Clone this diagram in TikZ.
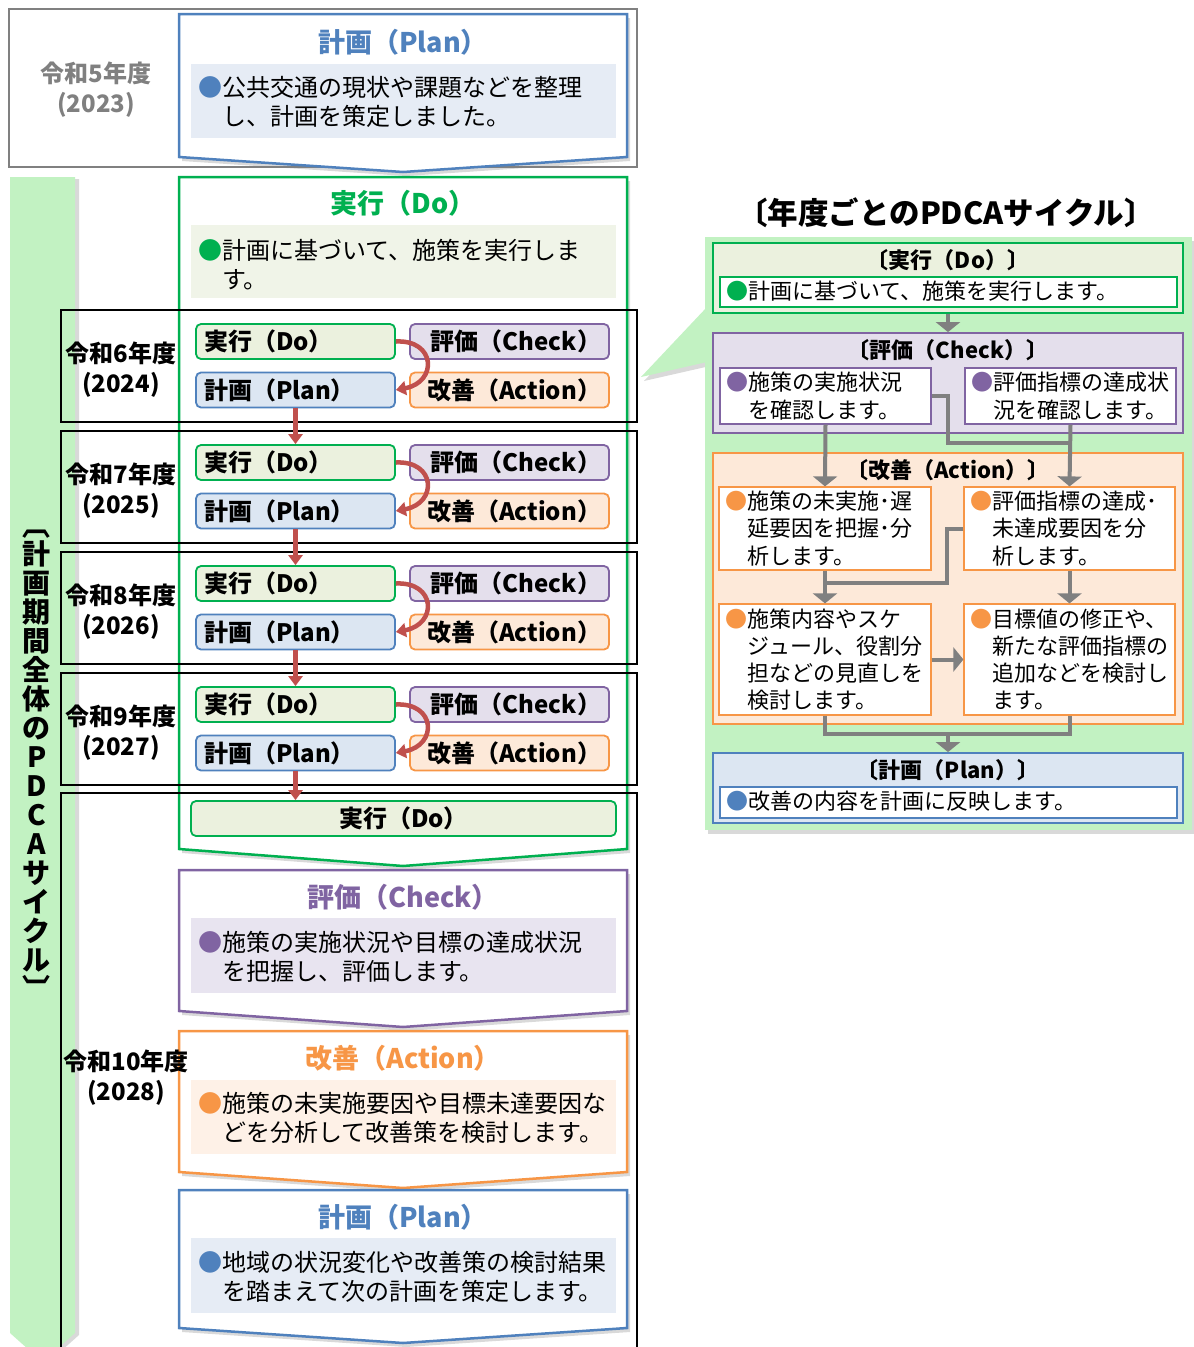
\documentclass[tikz,border=0pt]{standalone}
\usepackage{fontspec}
\setmainfont{Noto Sans CJK JP}
\usetikzlibrary{arrows.meta,shadows,calc}
\definecolor{cBlue}{RGB}{79,129,189}
\definecolor{cGreen}{RGB}{0,176,80}
\definecolor{cPurple}{RGB}{128,100,162}
\definecolor{cOrange}{RGB}{247,150,70}
\definecolor{fBlue}{RGB}{220,230,242}
\definecolor{fBlueL}{RGB}{230,236,245}
\definecolor{fGreen}{RGB}{235,241,222}
\definecolor{fGreenL}{RGB}{240,244,232}
\definecolor{fPurple}{RGB}{228,223,236}
\definecolor{fPurpleL}{RGB}{232,228,240}
\definecolor{fOrange}{RGB}{253,233,217}
\definecolor{fOrangeL}{RGB}{254,241,231}
\definecolor{barGreen}{RGB}{194,242,194}
\definecolor{redA}{RGB}{192,80,77}
\definecolor{grayA}{RGB}{128,128,128}
\newcommand\bul[2]{\begin{tabular}{@{}l@{}l@{}}\textcolor{#1}{●}&#2\end{tabular}}
\newcommand\mychev[4]{\draw[chev,draw=#1] (179,#2) -- (627,#2) -- (627,#3) -- (403,#4) -- (179,#3) -- cycle;}
\begin{document}
\begin{tikzpicture}[x=1pt,y=-1pt,
  shad/.style={drop shadow={shadow xshift=3pt,shadow yshift=-4pt,opacity=0.3}},
  chev/.style={line width=2.5pt,fill=white,line join=miter,shad},
  ttl/.style={font=\fontsize{27}{30}\selectfont\bfseries},
  body/.style={font=\fontsize{24}{29.5}\selectfont,inner sep=0pt},
  yl/.style={font=\fontsize{24}{30}\selectfont\bfseries,align=center,inner sep=0pt},
  sbox/.style={rounded corners=5pt,line width=1.8pt,minimum height=35pt,inner xsep=8pt,inner ysep=0pt,text width=183pt,font=\fontsize{24}{28}\selectfont\bfseries},
  redarr/.style={draw=redA,line width=4.5pt,-{Triangle[width=14pt,length=10pt]}},
  pbox/.style={line width=1.8pt,inner sep=0pt},
  ibox/.style={line width=1.2pt,fill=white,inner sep=0pt},
  ptl/.style={font=\fontsize{22}{26}\selectfont\bfseries,inner sep=0pt},
  ptx/.style={font=\fontsize{22}{27.3}\selectfont,inner sep=0pt},
  gline/.style={draw=grayA,line width=4pt},
  garr/.style={draw=grayA,line width=4pt,-{Triangle[width=24pt,length=10pt]}}]
\useasboundingbox (0,0) rectangle (1194,1347);

% top gray box
\draw[grayA,line width=2pt] (9,9) rectangle (637,167);
\node[yl,text=grayA] (y5) at (96,90) {令和5年度\\(2023)};

% left bar
\path[fill=barGreen,drop shadow={shadow xshift=4pt,shadow yshift=-2pt,opacity=0.3}] (10,177) -- (75,177) -- (75,1333) -- (42.5,1362) -- (10,1333) -- cycle;
\node[font=\fontsize{28}{29}\selectfont\bfseries,align=center,inner sep=0pt] (vt) at (37,765) {︹\\計\\画\\期\\間\\全\\体\\の\\P\\D\\C\\A\\サ\\イ\\ク\\ル\\︺};

% chevrons
\mychev{cBlue}{14}{157}{172}
\fill[fBlueL] (191,64) rectangle (616,138);
\node[ttl,text=cBlue] (t1) at (403,42) {計画（Plan）};
\node[body,anchor=west] (b1) at (198,105) {\bul{cBlue}{公共交通の現状や課題などを整理\\&し、計画を策定しました。}};

\mychev{cGreen}{177}{849}{866}
\fill[fGreenL] (191,225) rectangle (616,298);
\node[ttl,text=cGreen] (t2) at (403,203) {実行（Do）};
\node[body,anchor=west] (b2) at (198,268) {\bul{cGreen}{計画に基づいて、施策を実行しま\\&す。}};

\mychev{cPurple}{870}{1011}{1027}
\fill[fPurpleL] (191,918) rectangle (616,993);
\node[ttl,text=cPurple] (t3) at (403,897) {評価（Check）};
\node[body,anchor=west] (b3) at (198,960) {\bul{cPurple}{施策の実施状況や目標の達成状況\\&を把握し、評価します。}};

\mychev{cOrange}{1031}{1172}{1188}
\fill[fOrangeL] (191,1080) rectangle (616,1154);
\node[ttl,text=cOrange] (t4) at (403,1058) {改善（Action）};
\node[body,anchor=west] (b4) at (198,1121) {\bul{cOrange}{施策の未実施要因や目標未達要因な\\&どを分析して改善策を検討します。}};

\mychev{cBlue}{1190}{1328}{1343}
\fill[fBlueL] (191,1238) rectangle (616,1313);
\node[ttl,text=cBlue] (t5) at (403,1217) {計画（Plan）};
\node[body,anchor=west] (b5) at (198,1280) {\bul{cBlue}{地域の状況変化や改善策の検討結果\\&を踏まえて次の計画を策定します。}};

% year boxes
\foreach \k/\yr/\ad in {0/6/2024,1/7/2025,2/8/2026,3/9/2027}{
  \pgfmathsetmacro\yz{310+121*\k}
  \draw[line width=2pt] (61,\yz) rectangle (637,\yz+112);
  \node[yl] (yl\k) at (121,\yz+60) {令和\yr{}年度\\(\ad)};
  \node[sbox,draw=cGreen,fill=fGreen,align=left] (do\k) at (295.5,\yz+31.5) {実行（Do）};
  \node[sbox,draw=cPurple,fill=fPurple,align=right] (ck\k) at (509.5,\yz+31.5) {評価（Check）};
  \node[sbox,draw=cBlue,fill=fBlue,align=left] (pl\k) at (295.5,\yz+80) {計画（Plan）};
  \node[sbox,draw=cOrange,fill=fOrange,align=right] (ac\k) at (509.5,\yz+80) {改善（Action）};
  \draw[redarr] (do\k.east) .. controls +(40,-2) and +(42,-8) .. (pl\k.east);
}
\draw[line width=2pt] (61,1350) -- (61,793) -- (637,793) -- (637,1350);
\node[yl] (yl4) at (126,1078) {令和10年度\\(2028)};
\node[sbox,draw=cGreen,fill=fGreen,align=center,text width=409pt] (doL) at (403.5,818.5) {実行（Do）};
\foreach \a/\b in {0/1,1/2,2/3,3/L}{
  \draw[redarr] (pl\a.south) -- (pl\a.south |- do\b.north);
}

% right panel
\path[fill=barGreen,shad] (641,377) -- (707,307) -- (707,362) -- cycle;
\path[fill=barGreen,shad] (705,237) rectangle (1192,830);
\node[font=\fontsize{30.5}{33}\selectfont\bfseries,inner sep=0pt] (rt) at (946,213) {〔年度ごとのPDCAサイクル〕};

\node[pbox,draw=cGreen,fill=fGreen,minimum width=470pt,minimum height=70pt] (rdo) at (948,278) {};
\node[ptl] (rdoT) at (948,260) {〔実行（Do）〕};
\node[ibox,draw=cGreen,minimum width=457pt,minimum height=30pt] (rdoI) at (948.5,292) {};
\node[ptx,anchor=west] at ([xshift=7pt,yshift=-2pt]rdoI.west) {\bul{cGreen}{計画に基づいて、施策を実行します。}};

\node[pbox,draw=cPurple,fill=fPurple,minimum width=470pt,minimum height=100pt] (rck) at (948,383) {};
\node[ptl] (rckT) at (948,350) {〔評価（Check）〕};
\node[ibox,draw=cPurple,minimum width=211pt,minimum height=56pt] (ckL) at (825.5,396) {};
\node[ptx,anchor=west] at ([xshift=7pt,yshift=-3pt]ckL.west) {\bul{cPurple}{施策の実施状況\\&を確認します。}};
\node[ibox,draw=cPurple,minimum width=211pt,minimum height=56pt] (ckR) at (1070.5,396) {};
\node[ptx,anchor=west] at ([xshift=7pt,yshift=-3pt]ckR.west) {\bul{cPurple}{評価指標の達成状\\&況を確認します。}};

\node[pbox,draw=cOrange,fill=fOrange,minimum width=470pt,minimum height=271pt] (rac) at (948,588.5) {};
\node[ptl] (racT) at (948,470) {〔改善（Action）〕};
\node[ibox,draw=cOrange,minimum width=212pt,minimum height=83pt] (acTL) at (825,528.5) {};
\node[ptx,anchor=west] at ([xshift=7pt,yshift=-3pt]acTL.west) {\bul{cOrange}{施策の未実施･遅\\&延要因を把握･分\\&析します。}};
\node[ibox,draw=cOrange,minimum width=211pt,minimum height=83pt] (acTR) at (1069.5,528.5) {};
\node[ptx,anchor=west] at ([xshift=7pt,yshift=-3pt]acTR.west) {\bul{cOrange}{評価指標の達成･\\&未達成要因を分\\&析します。}};
\node[ibox,draw=cOrange,minimum width=212pt,minimum height=111pt] (acBL) at (825,659.5) {};
\node[ptx,anchor=west] at ([xshift=7pt,yshift=-3pt]acBL.west) {\bul{cOrange}{施策内容やスケ\\&ジュール、役割分\\&担などの見直しを\\&検討します。}};
\node[ibox,draw=cOrange,minimum width=211pt,minimum height=111pt] (acBR) at (1069.5,659.5) {};
\node[ptx,anchor=west] at ([xshift=7pt,yshift=-3pt]acBR.west) {\bul{cOrange}{目標値の修正や、\\&新たな評価指標の\\&追加などを検討し\\&ます。}};

\node[pbox,draw=cBlue,fill=fBlue,minimum width=470pt,minimum height=70pt] (rpl) at (948,788) {};
\node[ptl] (rplT) at (948,770) {〔計画（Plan）〕};
\node[ibox,draw=cBlue,minimum width=457pt,minimum height=31pt] (rplI) at (948.5,802.5) {};
\node[ptx,anchor=west] at ([xshift=7pt,yshift=-2pt]rplI.west) {\bul{cBlue}{改善の内容を計画に反映します。}};

% gray connectors
\draw[garr] (rdo.south) -- (rck.north);
\coordinate (j1) at (948,443);
\draw[gline] (ckL.east) -| (j1) -- (j1 -| ckR.south);
\draw[garr] (ckL.south) -- (acTL.north);
\draw[garr] (ckR.south) -- (acTR.north);
\coordinate (j2) at (947,583);
\draw[gline] (acTR.west) -| (j2) -- (j2 -| acTL.south);
\draw[garr] (acTL.south) -- (acBL.north);
\draw[garr] (acTR.south) -- (acBR.north);
\draw[garr] (acBL.east) -- (acBR.west);
\coordinate (j3) at (948,734);
\draw[gline] (acBL.south) |- (j3) -| (acBR.south);
\draw[garr] (j3) -- (rpl.north);
\end{tikzpicture}
\end{document}
